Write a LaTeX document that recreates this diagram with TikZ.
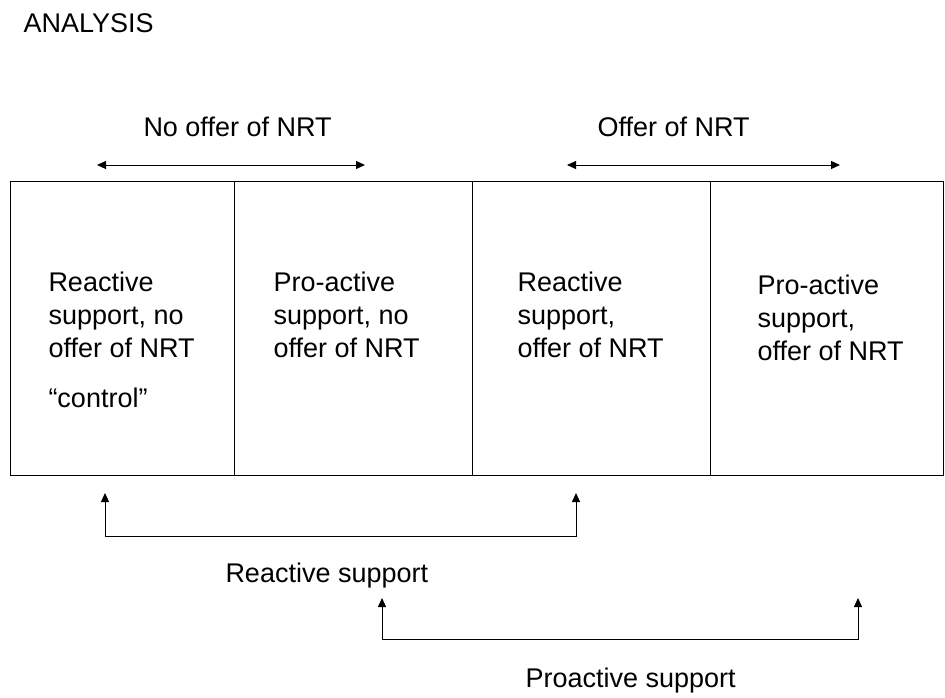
\documentclass[tikz,border=0pt]{standalone}
\usepackage{fontspec}
\setmainfont{Liberation Sans}
\usetikzlibrary{arrows.meta}
\tikzstyle{lbl}=[inner sep=0pt, anchor=base west, font=\fontsize{27}{33}\selectfont]
\tikzstyle{cell}=[lbl, align=left]

\begin{document}
\begin{tikzpicture}[x=1pt, y=-1pt, line width=1pt, >={Triangle[length=9pt,width=8pt]}]
                \useasboundingbox (0,0) rectangle (945,698);
                \node[lbl] (title) at (23, 33) {ANALYSIS};
                % top labels and ranges
                \node[lbl] (nooffer) at (143, 137) {No offer of NRT};
                \node[lbl] (offer) at (597, 137) {Offer of NRT};
                \coordinate (nl) at (97, 165);
                \coordinate (nr) at (365, 165);
                \coordinate (ol) at (567, 165);
                \coordinate (or) at (840, 165);
                \draw[<->] (nl)--(nr);
                \draw[<->] (ol)--(or);
                % the four arms
                \draw (10, 181) rectangle (943, 475);
                \draw (234, 181)--(234, 475) (472, 181)--(472, 475) (710, 181)--(710, 475);
                \node[cell] (c1) at (48, 357) {Reactive\\support, no\\offer of NRT};
                \node[lbl] (ctrl) at (48, 407) {“control”};
                \node[cell] (c2) at (273, 357) {Pro-active\\support, no\\offer of NRT};
                \node[cell] (c3) at (517, 357) {Reactive\\support,\\offer of NRT};
                \node[cell] (c4) at (757, 360) {Pro-active\\support,\\offer of NRT};
                % comparisons below
                \coordinate (ra) at (105, 493);
                \coordinate (rb) at (105, 536);
                \coordinate (rc) at (576, 536);
                \coordinate (rd) at (576, 493);
                \draw[<->] (ra)--(rb)--(rc)--(rd);
                \node[lbl] (react) at (225, 582) {Reactive support};
                \coordinate (pa) at (382, 598);
                \coordinate (pb) at (382, 639);
                \coordinate (pc) at (858, 639);
                \coordinate (pd) at (858, 598);
                \draw[<->] (pa)--(pb)--(pc)--(pd);
                \node[lbl] (proact) at (525, 687) {Proactive support};
            \end{tikzpicture}
\end{document}
